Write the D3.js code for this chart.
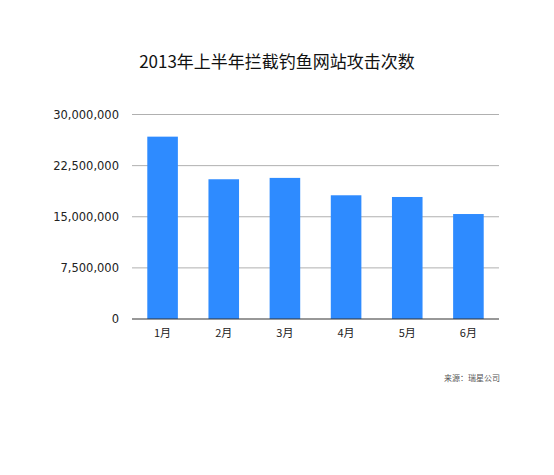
<!DOCTYPE html>
<html><head><meta charset="utf-8">
<script src="https://cdn.jsdelivr.net/npm/d3@7"></script>
<style>body{margin:0;background:#fff}</style>
</head><body>
<svg id="chart" width="554" height="475"></svg>
<script>
const months = ['1月', '2月', '3月', '4月', '5月', '6月']
const attacks = [26750000, 20500000, 20700000, 18150000, 17900000, 15400000]
const yTicks = [0, 7500000, 15000000, 22500000, 30000000]

const svg = d3.select('#chart')
const font = "'Lucida Grande','DejaVu Sans','Noto Sans CJK SC',sans-serif"

const x = d3.scaleBand().domain(months).range([132, 499]).paddingInner(0.5).paddingOuter(0.25)
const y = d3.scaleLinear().domain([0, 30000000]).range([319, 114.5])

svg.append('text').attr('x', 277).attr('y', 68).attr('text-anchor', 'middle')
  .style('font-family', "'Noto Sans CJK SC',sans-serif").style('font-size', '17px').attr('fill', '#111')
  .text('2013年上半年拦截钓鱼网站攻击次数')

// gridlines
svg.selectAll('line.grid').data(yTicks.slice(1)).enter().append('line')
  .attr('class', 'grid').attr('x1', 132).attr('x2', 499)
  .attr('y1', d => y(d)).attr('y2', d => y(d))
  .attr('stroke', '#b0b0b0').attr('stroke-width', 1)

svg.selectAll('text.ytick').data(yTicks).enter().append('text')
  .attr('class', 'ytick').attr('x', 119).attr('y', d => y(d) + 4)
  .attr('text-anchor', 'end').style('font-family', font).style('font-size', '11.5px').attr('fill', '#222')
  .text(d => d3.format(',')(d))

svg.selectAll('rect.bar').data(attacks).enter().append('rect')
  .attr('class', 'bar')
  .attr('x', (d, i) => x(months[i]))
  .attr('width', x.bandwidth())
  .attr('y', d => y(d))
  .attr('height', d => y(0) - y(d))
  .attr('fill', '#2e8bff')

svg.append('line').attr('x1', 132).attr('x2', 499).attr('y1', y(0)).attr('y2', y(0))
  .attr('stroke', '#333').attr('stroke-width', 1.2)

svg.selectAll('text.xtick').data(months).enter().append('text')
  .attr('class', 'xtick').attr('x', d => x(d) + x.bandwidth() / 2).attr('y', 337)
  .attr('text-anchor', 'middle').style('font-family', "'Noto Sans CJK SC',sans-serif").style('font-size', '11px').attr('fill', '#222')
  .text(d => d)

svg.append('text').attr('x', 500).attr('y', 381).attr('text-anchor', 'end')
  .style('font-family', "'Noto Sans CJK SC',sans-serif").style('font-size', '8px').attr('fill', '#555')
  .text('来源：瑞星公司')
</script>
</body></html>
